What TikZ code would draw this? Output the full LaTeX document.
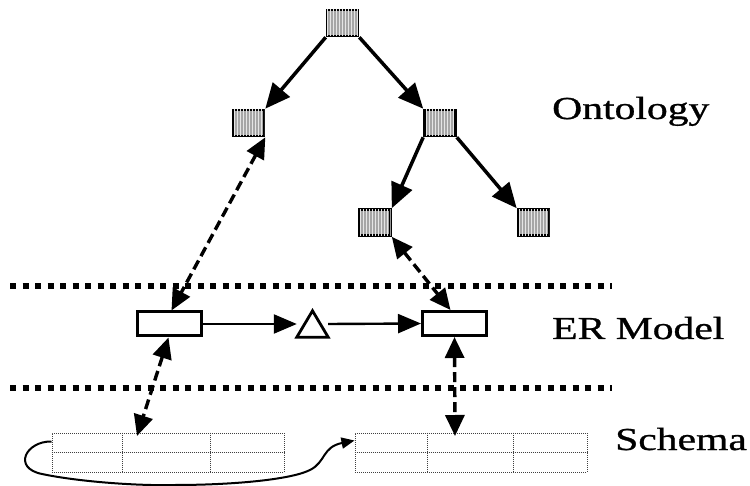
\documentclass[tikz,border=0pt]{standalone}
\usepackage{graphicx}
\usepackage{fontspec}
\setmainfont[FakeBold=0.8]{Liberation Serif}
\usetikzlibrary{arrows.meta,patterns}
\begin{document}
\begin{tikzpicture}[x=1pt,y=-1pt,
  concept/.style={draw,line width=2.6pt,fill=gray!70,minimum width=31pt,minimum height=26pt,inner sep=0pt,
    postaction={pattern=vertical lines,pattern color=white!80!gray}},
  entity/.style={draw,line width=3pt,fill=white,minimum width=64pt,minimum height=24pt,inner sep=0pt},
  tablebox/.style={draw=black!75,densely dotted,line width=1pt,minimum width=232pt,minimum height=39pt,inner sep=0pt},
  cellline/.style={draw=black!75,densely dotted,line width=1pt},
  treeedge/.style={line width=3.5pt,-{Triangle[length=25pt,width=22pt]}},
  flowedge/.style={line width=2.4pt,-{Triangle[length=23pt,width=19pt]}},
  mapedge/.style={line width=3.4pt,dash pattern=on 10pt off 5pt,
    {Triangle[length=21pt,width=19pt]}-{Triangle[length=21pt,width=19pt]}},
  divider/.style={line width=5.5pt,dash pattern=on 6pt off 6.5pt},
  layername/.style={anchor=base west,inner sep=0pt,font=\fontsize{32}{34}\selectfont}
]
\useasboundingbox (0,0) rectangle (750,486);

% ontology tree
\node[concept] (c0) at (342.5,23) {};
\node[concept] (c1) at (248.5,123) {};
\node[concept] (c2) at (440,123) {};
\node[concept] (c3) at (375,222.5) {};
\node[concept] (c4) at (533.5,222.5) {};
\draw[treeedge] (c0.south west) -- (c1.north east);
\draw[treeedge] (c0.south east) -- (c2.north west);
\draw[treeedge] (c2.south west) -- (c3.north east);
\draw[treeedge] (c2.south east) -- (c4.north west);

% layer separators
\coordinate (d1l) at (10,286);
\coordinate (d1r) at (612,286);
\coordinate (d2l) at (10,388);
\coordinate (d2r) at (612,388);
\draw[divider] (d1l) -- (d1r);
\draw[divider] (d2l) -- (d2r);

% ER model
\node[entity] (e1) at (169.5,324) {};
\node[entity] (e2) at (454.5,323.5) {};
\node[minimum width=31pt,minimum height=26pt,inner sep=0pt] (rel) at (312.5,324) {};
\draw[line width=2.8pt,line join=miter] (rel.south west) -- (rel.north) -- (rel.south east) -- cycle;
\draw[flowedge] (e1.east) -- (rel.west);
\draw[flowedge] (rel.east) -- (e2.west);

% schema tables
\node[tablebox] (s1) at (168,452.5) {};
\node[tablebox] (s2) at (471,452.5) {};
\draw[cellline] (s1.west) -- (s1.east);
\draw[cellline] ([xshift=71pt]s1.north west) -- ([xshift=71pt]s1.south west);
\draw[cellline] ([xshift=159pt]s1.north west) -- ([xshift=159pt]s1.south west);
\draw[cellline] (s2.west) -- (s2.east);
\draw[cellline] ([xshift=73pt]s2.north west) -- ([xshift=73pt]s2.south west);
\draw[cellline] ([xshift=159pt]s2.north west) -- ([xshift=159pt]s2.south west);

% mappings between layers
\coordinate (s1a) at (137,436);
\coordinate (s2a) at (455,436);
\draw[mapedge] (c1.south east) -- ([xshift=2pt]e1.north);
\draw[mapedge] (c3.south east) -- ([xshift=-4pt]e2.north);
\draw[mapedge] ([xshift=-1pt]e1.south) -- (s1a);
\draw[mapedge] (e2.south) -- (s2a);

% link between tables
\draw[line width=2pt,-{Triangle[length=13pt,width=11pt]}]
  ([yshift=-9pt]s1.north west) .. controls (26,441) and (12,468) .. (42,474)
  .. controls (80,482) and (140,486) .. (175,485)
  .. controls (230,485) and (290,480) .. (310,470)
  .. controls (326,462) and (322,447) .. ([yshift=-8pt]s2.north west);

% layer names
\node[layername] (t1) at (552,119) {\scalebox{1.3}[1]{Ontology}};
\node[layername] (t2) at (552,339) {\scalebox{1.3}[1]{ER Model}};
\node[layername] (t3) at (615,450) {\scalebox{1.3}[1]{Schema}};
\end{tikzpicture}
\end{document}
